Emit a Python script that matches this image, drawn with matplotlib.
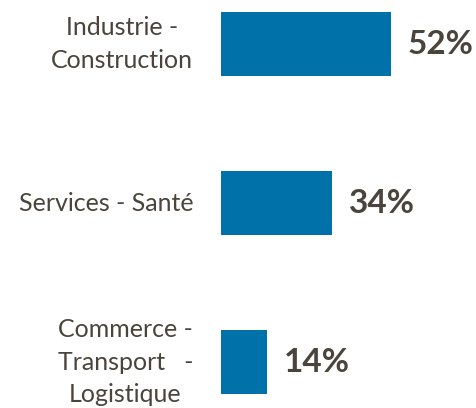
import matplotlib

matplotlib.use("Agg")
import matplotlib.pyplot as plt

# data
categories = ["Industrie -\nConstruction", "Services - Santé", "Commerce -\nTransport   -\nLogistique"]
shares = [52, 34, 14]

BAR_COLOR = "#0071A9"
TEXT_COLOR = "#4A443D"

fig = plt.figure(figsize=(4.77, 4.08), dpi=100)
ax = fig.add_axes([221 / 477, 0, 256 / 477, 1])

positions = list(range(len(categories)))
bars = ax.barh(positions, shares, height=0.4, color=BAR_COLOR)

ax.set_xlim(0, 256 / 3.27)
ax.set_ylim(2.289, -0.277)

ax.set_yticks(positions)
ax.set_yticklabels(categories, fontsize=18, color=TEXT_COLOR, family="Lato",
                   multialignment="center", linespacing=1.5, va="center")
ax.tick_params(axis="y", length=0, pad=20)
ax.set_xticks([])
for side in ["top", "right", "bottom", "left"]:
    ax.spines[side].set_visible(False)

for bar, val in zip(bars, shares):
    ax.annotate(f"{val}%", (bar.get_width(), bar.get_y() + bar.get_height() / 2),
                xytext=(12, 0), textcoords="offset points", va="center", ha="left",
                fontsize=24, fontweight="bold", color=TEXT_COLOR, family="Lato")

fig.savefig("out.png", dpi=100)
plt.close()
